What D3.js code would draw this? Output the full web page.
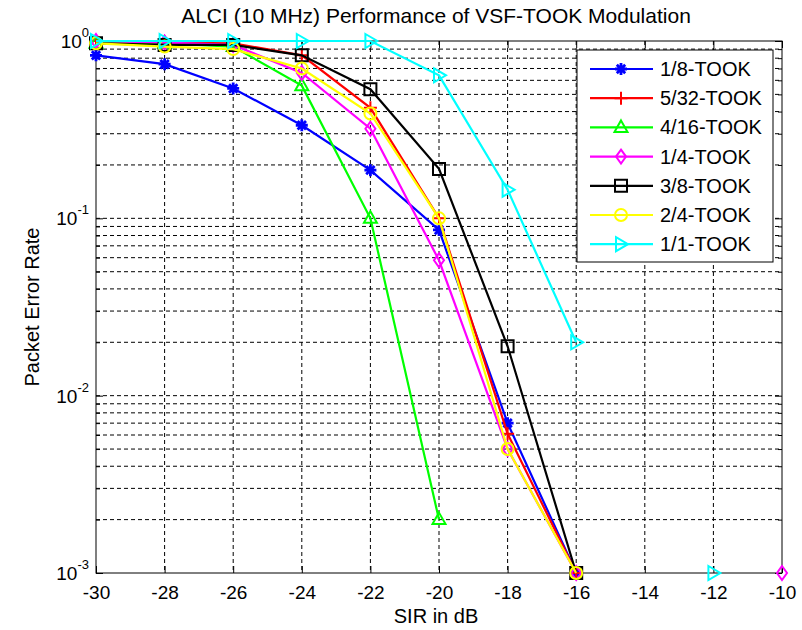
<!DOCTYPE html>
<html>
<head>
<meta charset="utf-8">
<script src="https://cdn.jsdelivr.net/npm/d3@7"></script>
<style>
    body { margin: 0; background: #fff; }
    text { font-family: "Liberation Sans", Arial, sans-serif; fill: #000; }
    .grid line { stroke: #000; stroke-width: 1; stroke-dasharray: 4,3; }
</style>
</head>
<body>
<div id="chart"></div>
<script>

// x values (SIR in dB)
const sir = [-30, -28, -26, -24, -22, -20, -18, -16, -14, -12, -10];

// packet error rate per modulation (null = not plotted)
const took18  = [0.83, 0.74, 0.54, 0.335, 0.187, 0.086, 0.007, 0.001, null, null, null];
const took532 = [1.0, 0.98, 0.97, 0.83, 0.42, 0.1, 0.0061, 0.001, null, null, null];
const took416 = [0.97, 0.97, 0.93, 0.56, 0.1, 0.002, null, null, null, null, null];
const took14  = [1.0, 0.98, 0.95, 0.66, 0.32, 0.058, 0.005, 0.001, null, null, 0.001];
const took38  = [0.97, 0.95, 0.95, 0.83, 0.535, 0.19, 0.019, 0.001, null, null, null];
const took24  = [0.97, 0.93, 0.9, 0.70, 0.39, 0.1, 0.005, 0.001, null, null, null];
const took11  = [1.0, 1.0, 1.0, 1.0, 1.0, 0.64, 0.145, 0.02, null, 0.001, null];

const seriesNames = ["1/8-TOOK", "5/32-TOOK", "4/16-TOOK", "1/4-TOOK", "3/8-TOOK", "2/4-TOOK", "1/1-TOOK"];

// tick labels
const xTicks = [-30, -28, -26, -24, -22, -20, -18, -16, -14, -12, -10];
const yExponents = [-3, -2, -1, 0];


class LineChart {

    constructor(parentElement, data) {
        this.parentElement = parentElement;
        this.data = data;
        this.initVis();
    }

    initVis() {
        let vis = this;

        vis.margin = {top: 41, right: 20, bottom: 57, left: 96};
        vis.width = 802 - vis.margin.left - vis.margin.right;
        vis.height = 630 - vis.margin.top - vis.margin.bottom;

        vis.svg = d3.select("#" + vis.parentElement).append("svg")
            .attr("width", 802)
            .attr("height", 630)
            .append("g")
            .attr("transform", "translate(" + vis.margin.left + "," + vis.margin.top + ")");

        vis.x = d3.scaleLinear()
            .domain([-30, -10])
            .range([0, vis.width]);
        vis.y = d3.scaleLog()
            .domain([1e-3, 1])
            .range([vis.height, 0]);

        // log ticks: majors and 2..9 minors
        vis.yTicks = [];
        yExponents.forEach(e => {
            let base = Math.pow(10, e);
            vis.yTicks.push(base);
            if (e < 0) for (let k = 2; k <= 9; k++) vis.yTicks.push(k * base);
        });

        vis.styles = [
            {color: "#0000ff", marker: "asterisk"},
            {color: "#ff0000", marker: "plus"},
            {color: "#00ff00", marker: "triangle"},
            {color: "#ff00ff", marker: "diamond"},
            {color: "#000000", marker: "square"},
            {color: "#ffff00", marker: "circle"},
            {color: "#00ffff", marker: "triright"}
        ];

        vis.drawAxes();
        vis.updateVis();
        vis.drawLegend();
    }

    markerPath(type) {
        switch (type) {
            case "asterisk": return "M0,-6L0,6M-6,0L6,0M-4.2,-4.2L4.2,4.2M-4.2,4.2L4.2,-4.2";
            case "plus": return "M0,-6.5L0,6.5M-6.5,0L6.5,0";
            case "triangle": return "M0,-7L6.5,4.5L-6.5,4.5Z";
            case "diamond": return "M0,-7L5,0L0,7L-5,0Z";
            case "square": return "M-6,-6H6V6H-6Z";
            case "circle": return "M6,0A6,6 0 1,1 -6,0A6,6 0 1,1 6,0Z";
            case "triright": return "M-5,-7L7,0L-5,7Z";
        }
    }

    drawAxes() {
        let vis = this;

        let isMajor = d => Math.abs(Math.log10(d) - Math.round(Math.log10(d))) < 1e-9;

        // grid
        let grid = vis.svg.append("g").attr("class", "grid");
        grid.selectAll("line.gx")
            .data(xTicks.slice(1, -1))
            .enter().append("line")
            .attr("x1", d => vis.x(d)).attr("x2", d => vis.x(d))
            .attr("y1", 0).attr("y2", vis.height);
        grid.selectAll("line.gy")
            .data(vis.yTicks.filter(d => d > 1e-3 && d < 1))
            .enter().append("line")
            .attr("x1", 0).attr("x2", vis.width)
            .attr("y1", d => vis.y(d)).attr("y2", d => vis.y(d));

        // axes with inward ticks on all four sides
        vis.svg.append("g")
            .attr("transform", "translate(0," + vis.height + ")")
            .call(d3.axisBottom(vis.x).tickValues(xTicks).tickSize(-7).tickPadding(13).tickFormat(d => String(d)))
            .call(g => g.select(".domain").remove());
        vis.svg.append("g")
            .call(d3.axisTop(vis.x).tickValues(xTicks).tickSize(-7).tickFormat(""))
            .call(g => g.select(".domain").remove());
        vis.svg.append("g")
            .call(d3.axisLeft(vis.y).tickValues(vis.yTicks).tickSize(0).tickFormat(""))
            .call(g => g.select(".domain").remove())
            .selectAll(".tick line")
            .attr("x2", d => isMajor(d) ? 7 : 4);
        vis.svg.append("g")
            .attr("transform", "translate(" + vis.width + ",0)")
            .call(d3.axisRight(vis.y).tickValues(vis.yTicks).tickSize(0).tickFormat(""))
            .call(g => g.select(".domain").remove())
            .selectAll(".tick line")
            .attr("x2", d => isMajor(d) ? -7 : -4);

        vis.svg.selectAll(".tick line").attr("stroke", "#000");
        vis.svg.selectAll(".tick text")
            .style("font-size", "19px")
            .style("font-family", "'Liberation Sans', Arial, sans-serif");

        // y labels 10^e
        let yl = vis.svg.append("g").selectAll("text.ylab")
            .data(yExponents)
            .enter().append("text")
            .attr("class", "ylab")
            .attr("x", -7)
            .attr("y", d => vis.y(Math.pow(10, d)) + 7)
            .attr("text-anchor", "end")
            .style("font-size", "19px");
        yl.append("tspan").text("10");
        yl.append("tspan")
            .attr("dy", -11)
            .style("font-size", "13px")
            .text(d => d);

        // box
        vis.svg.append("rect")
            .attr("width", vis.width)
            .attr("height", vis.height)
            .attr("fill", "none")
            .attr("stroke", "#000")
            .attr("stroke-width", 1);

        // labels
        vis.svg.append("text")
            .attr("x", vis.width / 2 - 3)
            .attr("y", -18)
            .attr("text-anchor", "middle")
            .style("font-size", "21px")
            .text("ALCI (10 MHz) Performance of VSF-TOOK Modulation");
        vis.svg.append("text")
            .attr("x", vis.width / 2 - 3)
            .attr("y", vis.height + 50)
            .attr("text-anchor", "middle")
            .style("font-size", "20px")
            .text("SIR in dB");
        vis.svg.append("text")
            .attr("transform", "translate(-57," + (vis.height / 2) + ") rotate(-90)")
            .attr("text-anchor", "middle")
            .style("font-size", "20px")
            .text("Packet Error Rate");
    }

    updateVis() {
        let vis = this;

        let line = d3.line()
            .defined(d => d.v !== null)
            .x(d => vis.x(d.x))
            .y(d => vis.y(d.v));

        vis.data.forEach((values, i) => {
            let pts = sir.map((x, j) => ({x: x, v: values[j]}));
            let st = vis.styles[i];
            let g = vis.svg.append("g");

            g.append("path")
                .datum(pts)
                .attr("d", line)
                .attr("fill", "none")
                .attr("stroke", st.color)
                .attr("stroke-width", 2.2);

            g.selectAll("path.marker")
                .data(pts.filter(d => d.v !== null))
                .enter().append("path")
                .attr("class", "marker")
                .attr("transform", d => "translate(" + vis.x(d.x) + "," + vis.y(d.v) + ")")
                .attr("d", vis.markerPath(st.marker))
                .attr("fill", "none")
                .attr("stroke", st.color)
                .attr("stroke-width", st.marker === "asterisk" ? 2.8 : 2);
        });
    }

    drawLegend() {
        let vis = this;

        let lg = vis.svg.append("g")
            .attr("transform", "translate(" + (577 - vis.margin.left) + "," + (50 - vis.margin.top) + ")");

        lg.append("rect")
            .attr("width", 196)
            .attr("height", 212)
            .attr("fill", "#fff")
            .attr("stroke", "#000");

        let rows = lg.selectAll("g.row")
            .data(seriesNames)
            .enter().append("g")
            .attr("transform", (d, i) => "translate(0," + (19 + i * 29.2) + ")");

        rows.append("line")
            .attr("x1", 13).attr("x2", 76)
            .attr("stroke", (d, i) => vis.styles[i].color)
            .attr("stroke-width", 2.2);
        rows.append("path")
            .attr("transform", "translate(44,0)")
            .attr("d", (d, i) => vis.markerPath(vis.styles[i].marker))
            .attr("fill", "none")
            .attr("stroke", (d, i) => vis.styles[i].color)
            .attr("stroke-width", (d, i) => vis.styles[i].marker === "asterisk" ? 2.8 : 2);
        rows.append("text")
            .attr("x", 83)
            .attr("y", 7)
            .style("font-size", "20px")
            .text(d => d);
    }
}

new LineChart("chart", [took18, took532, took416, took14, took38, took24, took11]);

</script>
</body>
</html>
